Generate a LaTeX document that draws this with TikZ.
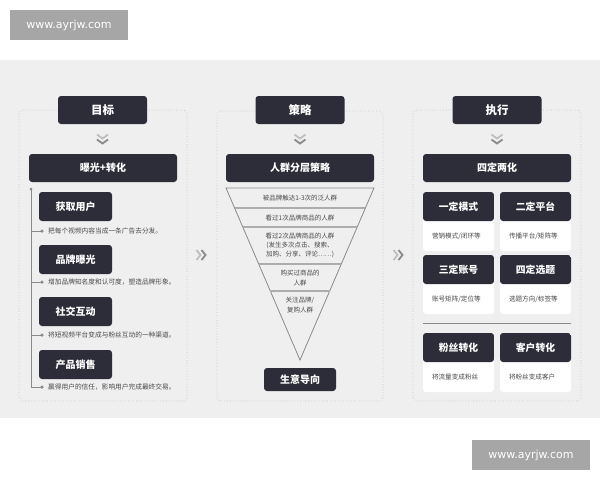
\documentclass[tikz,border=0pt]{standalone}
\usepackage{fontspec}
\newfontfamily\cjk{Noto Sans CJK SC}
\newfontfamily\wmfont{DejaVu Sans}
\usetikzlibrary{calc}
\definecolor{dark}{HTML}{2D2D3A}
\definecolor{panel}{HTML}{EFEFEF}
\definecolor{wm}{HTML}{A6A6A6}
\definecolor{txt}{HTML}{4A4A4A}
\definecolor{lin}{HTML}{8A8A8A}
\definecolor{dotc}{HTML}{C4C4C4}
\tikzset{
  titlebox/.style={fill=dark, rounded corners=3pt, text=white, inner sep=0pt,
    minimum width=89pt, minimum height=28pt, font=\cjk\bfseries\fontsize{11.5}{13}\selectfont},
  headbox/.style={fill=dark, rounded corners=3pt, text=white, inner sep=0pt,
    minimum width=148pt, minimum height=28pt, font=\cjk\bfseries\fontsize{10}{12}\selectfont},
  subbox/.style={fill=dark, rounded corners=3pt, text=white, inner sep=0pt,
    minimum width=73pt, minimum height=29pt, font=\cjk\bfseries\fontsize{10}{12}\selectfont},
  desc/.style={text=txt, inner sep=0pt, anchor=west, font=\cjk\fontsize{6.7}{8}\selectfont},
  ftext/.style={text=txt, inner sep=0pt, align=center, font=\cjk\fontsize{6.5}{9.2}\selectfont},
  container/.style={draw=dotc, dotted, line width=0.7pt, rounded corners=4pt},
  cardbody/.style={fill=white, rounded corners=3pt, inner sep=0pt, minimum width=71pt, minimum height=59pt,
    path picture={\fill[dark] (path picture bounding box.north west) rectangle ($(path picture bounding box.north east)+(0pt,-29pt)$);}},
  cardtitle/.style={text=white, inner sep=0pt, font=\cjk\bfseries\fontsize{9.8}{12}\selectfont},
  carddesc/.style={text=txt, inner sep=0pt, anchor=west, font=\cjk\fontsize{6.6}{8}\selectfont},
  wmbox/.style={fill=wm, text=white, inner sep=0pt, minimum width=118pt, minimum height=30pt, font=\wmfont\fontsize{11}{12}\selectfont},
  chev/.style={draw=lin, line width=1.8pt},
  chevl/.style={draw=lin!55, line width=1.8pt},
  branch/.style={draw=lin, line width=0.7pt},
  bdot/.style={circle, fill=lin, inner sep=0pt, minimum size=3.5pt},
}
\newcommand\mycard[5]{%
  \node[cardbody] (#1) at (#2,#3+29.5) {};
  \node[cardtitle] (#1t) at ($(#1.north)+(0pt,-14.5pt)$) {#4};
  \node[carddesc] (#1d) at ($(#1.west)+(9pt,-14.5pt)$) {#5};
}
\newcommand\downchev[2]{%
  \draw[chevl] (#1-5.5,#2-5.5) -- (#1,#2-1.5) -- (#1+5.5,#2-5.5);
  \draw[chev] (#1-5.5,#2-0.5) -- (#1,#2+3.5) -- (#1+5.5,#2-0.5);
}
\newcommand\rightchev[2]{%
  \draw[chevl] (#1-5.5,#2-5) -- (#1-1.5,#2) -- (#1-5.5,#2+5);
  \draw[chev] (#1-0.5,#2-5) -- (#1+3.5,#2) -- (#1-0.5,#2+5);
}
\begin{document}
\begin{tikzpicture}[x=1pt,y=-1pt]
\useasboundingbox (0,0) rectangle (600,480);
\fill[white] (0,0) rectangle (600,480);
\fill[panel] (0,60) rectangle (600,418);
% watermarks
\node[wmbox] (wm1) at (69,25) {www.ayrjw.com};
\node[wmbox] (wm2) at (531,455) {www.ayrjw.com};
% containers
\draw[container] (19,110) rectangle (187,401);
\draw[container] (217,111) rectangle (383,401);
\draw[container] (413,110) rectangle (581,401);
% inter-column chevrons
\rightchev{202}{255}
\rightchev{399}{255}

% ===== left column =====
\node[titlebox] (t1) at (102.5,110) {目标};
\downchev{102.5}{140}
\node[headbox] (h1) at (103,168) {曝光+转化};
\node[subbox] (s1) at (75.5,206.5) {获取用户};
\node[subbox] (s2) at (75.5,259.5) {品牌曝光};
\node[subbox] (s3) at (75.5,311.5) {社交互动};
\node[subbox] (s4) at (75.5,364.5) {产品销售};
\node[bdot, minimum size=3pt] (top) at (31,189) {};
\coordinate (c1) at (31,231);
\coordinate (c2) at (31,282);
\coordinate (c3) at (31,335);
\coordinate (c4) at (31,387);
\node[bdot] (d1) at (42,231) {};
\node[bdot] (d2) at (42,282) {};
\node[bdot] (d3) at (42,335) {};
\node[bdot] (d4) at (42,387) {};
\draw[branch] (top.center) -- (c4) -- (d4.center);
\draw[branch] (c1) -- (d1.center);
\draw[branch] (c2) -- (d2.center);
\draw[branch] (c3) -- (d3.center);
\node[desc] (e1) at (48,231) {把每个视频内容当成一条广告去分发。};
\node[desc] (e2) at (48,282) {增加品牌知名度和认可度，塑造品牌形象。};
\node[desc] (e3) at (48,335) {将短视频平台变成与粉丝互动的一种渠道。};
\node[desc] (e4) at (48,387) {赢得用户的信任，影响用户完成最终交易。};

% ===== middle column =====
\node[titlebox] (t2) at (300,110) {策略};
\downchev{300}{140}
\node[headbox] (h2) at (300,168) {人群分层策略};
\coordinate (fl) at (226,188);
\coordinate (fr) at (374,188);
\coordinate (fa) at (300,360);
\draw[lin, line width=0.8pt, line join=miter] (fl) -- (fr) -- (fa) -- cycle;
\draw[lin!70, line width=1.2pt] (234.6,208) -- (365.4,208);
\draw[lin!70, line width=1.2pt] (242.8,227) -- (357.2,227);
\draw[lin!70, line width=1.2pt] (258.7,264) -- (341.3,264);
\draw[lin!70, line width=1.2pt] (270.3,291) -- (329.7,291);
\node[ftext] (f1) at (300,198) {被品牌触达1-3次的泛人群};
\node[ftext] (f2) at (300,218) {看过1次品牌商品的人群};
\node[ftext] (f3) at (300,245.5) {看过2次品牌商品的人群\\(发生多次点击、搜索、\\加购、分享、评论……)};
\node[ftext] (f4) at (300,278) {购买过商品的\\人群};
\node[ftext] (f5) at (300,305) {关注品牌/\\复购人群};
\node[subbox, minimum width=72pt, minimum height=23pt] (b2) at (300,379.5) {生意导向};

% ===== right column =====
\node[titlebox] (t3) at (497,110) {执行};
\downchev{497}{140}
\node[headbox] (h3) at (497,168) {四定两化};
\mycard{k1}{458.5}{192}{一定模式}{营销模式/闭环等}
\mycard{k2}{535.5}{192}{二定平台}{传播平台/矩阵等}
\mycard{k3}{458.5}{255}{三定账号}{账号矩阵/定位等}
\mycard{k4}{535.5}{255}{四定选题}{选题方向/标签等}
\coordinate (sepl) at (423,323);
\coordinate (sepr) at (571,323);
\draw[lin, line width=0.9pt] (sepl) -- (sepr);
\mycard{k5}{458.5}{333}{粉丝转化}{将流量变成粉丝}
\mycard{k6}{535.5}{333}{客户转化}{将粉丝变成客户}
\end{tikzpicture}
\end{document}
